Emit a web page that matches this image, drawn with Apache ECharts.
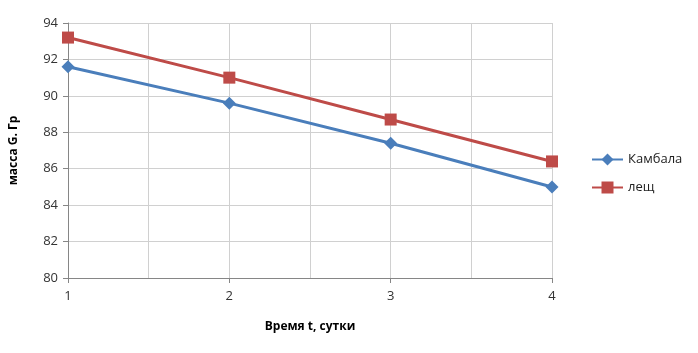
<!DOCTYPE html>
<html><head><meta charset="utf-8">
<script src="https://cdn.jsdelivr.net/npm/echarts@6/dist/echarts.min.js"></script>
<style>html,body{margin:0;padding:0;background:#fff}#c{width:698px;height:353px}</style>
</head><body><div id="c"></div>
<script>
const days = [1, 2, 3, 4];
const kambala = [91.6, 89.6, 87.4, 85.0];
const leshch = [93.2, 91.0, 88.7, 86.4];
const seriesNames = ['Камбала', 'лещ'];
const yTicks = [80, 82, 84, 86, 88, 90, 92, 94];

const font = 'Open Sans, Liberation Sans, sans-serif';
const chart = echarts.init(document.getElementById('c'), null, {renderer: 'canvas'});
const pair = (xs, ys) => xs.map((x, i) => [x, ys[i]]);
chart.setOption({
  animation: false,
  textStyle: {fontFamily: font},
  grid: {left: 68, right: 146, top: 23, bottom: 75},
  legend: {
    orient: 'vertical', left: 586, top: 148, itemGap: 15,
    itemWidth: 31, itemHeight: 15,
    textStyle: {fontSize: 13, color: '#222', fontFamily: font},
    data: seriesNames
  },
  xAxis: {
    type: 'value', min: 1, max: 4, interval: 1,
    name: 'Время t, сутки', nameLocation: 'middle', nameGap: 43,
    nameTextStyle: {fontWeight: 'bold', fontSize: 12, color: '#000'},
    axisLine: {lineStyle: {color: '#868686'}},
    axisTick: {show: true, length: 5, lineStyle: {color: '#868686'}},
    axisLabel: {fontSize: 13, color: '#333', margin: 12},
    splitLine: {show: true, lineStyle: {color: '#d0d0d0'}},
    minorTick: {show: false, splitNumber: 2},
    minorSplitLine: {show: true, lineStyle: {color: '#d0d0d0'}}
  },
  yAxis: {
    type: 'value', min: yTicks[0], max: yTicks[yTicks.length - 1], interval: 2,
    name: 'масса G. Гр', nameLocation: 'middle', nameGap: 48,
    nameTextStyle: {fontWeight: 'bold', fontSize: 12, color: '#000'},
    axisLine: {show: true, lineStyle: {color: '#868686'}},
    axisTick: {show: true, length: 5, lineStyle: {color: '#868686'}},
    axisLabel: {fontSize: 13, color: '#333', margin: 10},
    splitLine: {show: true, lineStyle: {color: '#d0d0d0'}}
  },
  series: [
    {name: seriesNames[0], type: 'line', data: pair(days, kambala),
     symbol: 'diamond', symbolSize: 13,
     lineStyle: {color: '#4a7ebb', width: 3}, itemStyle: {color: '#4a7ebb'}},
    {name: seriesNames[1], type: 'line', data: pair(days, leshch),
     symbol: 'rect', symbolSize: 12,
     lineStyle: {color: '#be4b48', width: 3}, itemStyle: {color: '#be4b48'}}
  ]
});
</script></body></html>
